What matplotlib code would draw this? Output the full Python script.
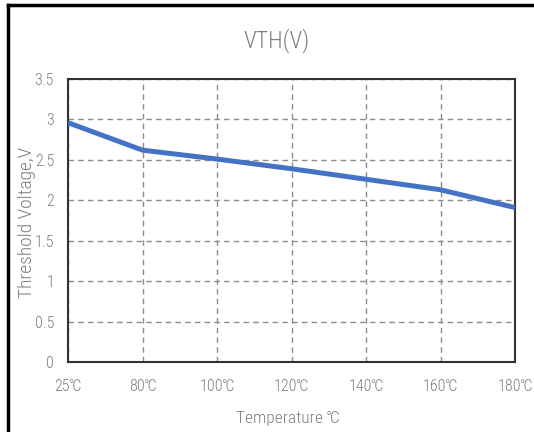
import matplotlib
matplotlib.use('Agg')
import matplotlib.pyplot as plt
from matplotlib.lines import Line2D

temps = ['25℃', '80℃', '100℃', '120℃', '140℃', '160℃', '180℃']
vth = [2.96, 2.62, 2.51, 2.39, 2.26, 2.13, 1.91]
yticks = [0, 0.5, 1, 1.5, 2, 2.5, 3, 3.5]
ytick_labels = ['0', '0.5', '1', '1.5', '2', '2.5', '3', '3.5']

plt.rcParams['font.family'] = ['Roboto Condensed', 'Noto Sans CJK SC', 'DejaVu Sans']
plt.rcParams['font.weight'] = 'light'
grey = '#7f7f7f'

fig = plt.figure(figsize=(5.34, 4.32), dpi=100)
ax = fig.add_axes([68/534, 1-362/432, (515-68)/534, (362-79)/432])

xs = list(range(len(temps)))
ax.plot(xs, vth, color='#4472c4', linewidth=3.6, solid_capstyle='butt', zorder=3)

ax.set_xlim(0, len(temps)-1)
ax.set_ylim(0, 3.5)
ax.set_xticks(xs)
ax.set_xticklabels(temps)
ax.set_yticks(yticks)
ax.set_yticklabels(ytick_labels)
ax.tick_params(length=0, labelsize=11.5, labelcolor=grey)
ax.tick_params(axis='x', pad=12)
ax.tick_params(axis='y', pad=10)
ax.grid(True, linestyle=(0, (4, 3)), color='#8c8c8c', linewidth=1.0)
for s in ax.spines.values():
    s.set_color('#333333')
    s.set_linewidth(1.5)

ax.set_xlabel('Temperature ℃', fontsize=12.5, color=grey, fontweight='light')
ax.xaxis.set_label_coords((288-68)/447, -(411-362)/283)
ax.set_ylabel('Threshold Voltage,V', fontsize=14, color=grey, fontweight='light')
ax.yaxis.set_label_coords(-(68-36)/447, (362-222)/283)
fig.text(0.518, 0.906, 'VTH(V)', ha='center', va='center', fontsize=17, color=grey)

# frame around the figure (top and left edges visible)
fig.add_artist(Line2D([7.5/534, 7.5/534], [0, 1-5/432], transform=fig.transFigure, color='black', linewidth=2.5))
fig.add_artist(Line2D([7.5/534, 1], [1-5/432, 1-5/432], transform=fig.transFigure, color='black', linewidth=2.5))

fig.savefig('out.png', dpi=100)
